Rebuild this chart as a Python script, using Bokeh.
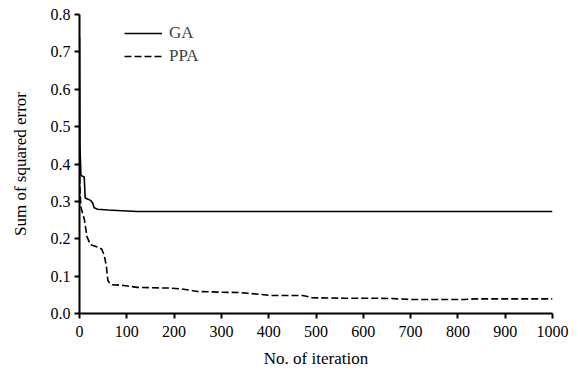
from bokeh.plotting import figure
from bokeh.models import Range1d, Legend, LegendItem, FixedTicker
from bokeh.embed import file_html
from bokeh.resources import INLINE

ga_x = [0, 1, 3, 10, 12, 18, 24, 28, 31, 38, 60, 90, 122, 200, 400, 600, 800, 1000]
ga_y = [0.74, 0.45, 0.369, 0.365, 0.309, 0.306, 0.302, 0.295, 0.283, 0.279, 0.277, 0.275, 0.273, 0.273, 0.273, 0.273, 0.273, 0.273]

ppa_x = [0, 1, 3, 10, 16, 23, 41, 47, 51, 54, 57, 60, 64, 69, 94, 122, 150, 192, 220, 249, 298, 340, 383, 404, 471, 480, 492, 560, 621, 660, 700, 813, 835, 900, 1000]
ppa_y = [0.42, 0.33, 0.284, 0.253, 0.205, 0.184, 0.177, 0.172, 0.160, 0.145, 0.124, 0.088, 0.081, 0.077, 0.075, 0.070, 0.069, 0.068, 0.065, 0.059, 0.057, 0.056, 0.051, 0.048, 0.048, 0.046, 0.042, 0.041, 0.041, 0.040, 0.0375, 0.0375, 0.039, 0.039, 0.039]

x_ticks = [0, 100, 200, 300, 400, 500, 600, 700, 800, 900, 1000]
y_ticks = [0.0, 0.1, 0.2, 0.3, 0.4, 0.5, 0.6, 0.7, 0.8]

FONT = "Liberation Serif"

p = figure(width=578, height=376, output_backend="svg", toolbar_location=None,
           x_range=Range1d(0, 1000), y_range=Range1d(0, 0.8),
           min_border_left=79, min_border_right=26, min_border_top=14, min_border_bottom=63)
p.outline_line_color = None
p.xgrid.visible = False
p.ygrid.visible = False
p.background_fill_color = "white"
p.border_fill_color = "white"

r_ga = p.line(ga_x, ga_y, line_color="black", line_width=1.6)
r_ppa = p.line(ppa_x, ppa_y, line_color="black", line_width=1.6, line_dash="7 3")

for ax in (p.xaxis[0], p.yaxis[0]):
    ax.axis_line_color = "black"
    ax.axis_line_width = 2
    ax.major_tick_line_color = "black"
    ax.major_tick_line_width = 2
    ax.major_tick_out = 5
    ax.major_tick_in = 0
    ax.minor_tick_line_color = None
    ax.major_label_text_font = FONT
    ax.major_label_text_font_size = "16px"
    ax.major_label_text_color = "black"
    ax.axis_label_text_font = FONT
    ax.axis_label_text_font_size = "17px"
    ax.axis_label_text_font_style = "normal"
    ax.axis_label_text_color = "black"

p.xaxis.ticker = FixedTicker(ticks=x_ticks)
p.yaxis.ticker = FixedTicker(ticks=y_ticks)
p.yaxis.major_label_overrides = {v: f"{v:.1f}" for v in y_ticks}
p.xaxis.axis_label = "No. of iteration"
p.yaxis.axis_label = "Sum of squared error"
p.xaxis.major_label_standoff = 7
p.xaxis.axis_label_standoff = 9
p.yaxis.major_label_standoff = 4
p.yaxis.axis_label_standoff = 18

legend = Legend(items=[LegendItem(label="GA", renderers=[r_ga]),
                       LegendItem(label="PPA", renderers=[r_ppa])],
                location=(45, 247))
legend.border_line_color = None
legend.background_fill_alpha = 0
legend.label_text_font = FONT
legend.label_text_font_size = "17px"
legend.glyph_width = 38
legend.glyph_height = 20
legend.label_height = 20
legend.label_standoff = 7
legend.spacing = 3
legend.padding = 4
legend.margin = 0
p.add_layout(legend)

open("out.html", "w").write(file_html(p, INLINE))
